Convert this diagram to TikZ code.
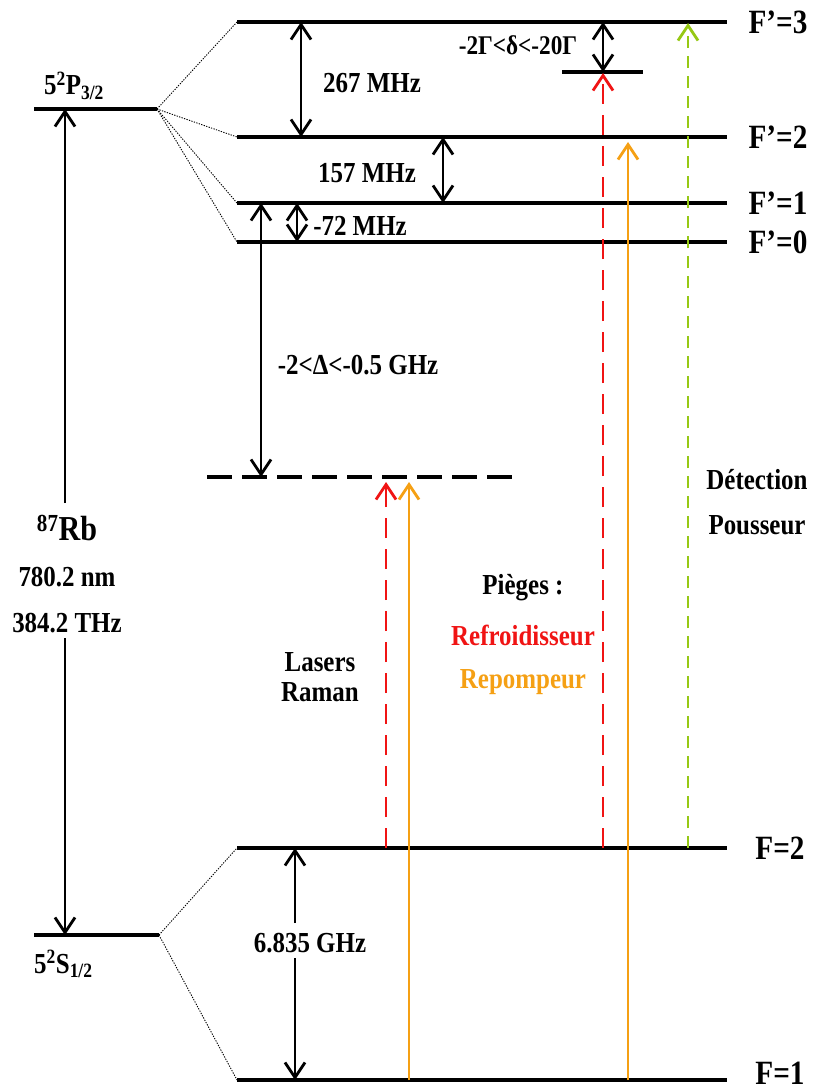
\documentclass[tikz,border=0pt]{standalone}
\usepackage{fontspec}
\setmainfont{Liberation Serif}[FakeStretch=0.86]
\usetikzlibrary{arrows.meta}
\definecolor{cred}{RGB}{240,20,20}
\definecolor{corange}{RGB}{245,160,20}
\definecolor{cgreen}{RGB}{150,200,20}
\begin{document}
\begin{tikzpicture}[x=1pt,y=-1pt,
  level/.style={line width=3.2pt},
  dotconn/.style={line width=0.9pt, dash pattern=on 1.3pt off 1.3pt},
  tipa/.tip={Straight Barb[length=15pt,width=20pt]},
  dbl/.style={line width=2.8pt, tipa-tipa},
  uparr/.style={line width=2.8pt, -tipa},
  reddash/.style={uparr, cred, dash pattern=on 20pt off 11pt},
  greendash/.style={uparr, cgreen, dash pattern=on 12pt off 8pt},
  orangearr/.style={uparr, corange},
  lbl/.style={inner sep=0pt, font=\fontsize{29}{34}\selectfont\bfseries},
  flbl/.style={inner sep=0pt, font=\fontsize{34}{38}\selectfont\bfseries}
]
\useasboundingbox (0,0) rectangle (813,1091);
% coordinates
\coordinate (F3l) at (237,22);  \coordinate (F3r) at (727,22);
\coordinate (F2pl) at (237,137); \coordinate (F2pr) at (727,137);
\coordinate (F1pl) at (237,203); \coordinate (F1pr) at (727,203);
\coordinate (F0pl) at (237,242); \coordinate (F0pr) at (727,242);
\coordinate (Pl) at (34,109); \coordinate (Pr) at (157,109);
\coordinate (Sl) at (34,935); \coordinate (Sr) at (159,935);
\coordinate (F2l) at (237,848); \coordinate (F2r) at (727,848);
\coordinate (F1l) at (237,1080); \coordinate (F1r) at (727,1080);
\coordinate (Vl) at (207,477); \coordinate (Vr) at (515,477);
\coordinate (dl) at (562,72); \coordinate (dr) at (643,72);
% levels
\draw[level] (F3l) -- (F3r);
\draw[level] (F2pl) -- (F2pr);
\draw[level] (F1pl) -- (F1pr);
\draw[level] (F0pl) -- (F0pr);
\draw[level] (Pl) -- (Pr);
\draw[level] (Sl) -- (Sr);
\draw[level] (F2l) -- (F2r);
\draw[level] (F1l) -- (F1r);
\draw[level] (dl) -- (dr);
\draw[line width=3.2pt, dash pattern=on 25pt off 10pt] (Vl) -- (Vr);
% dotted connectors
\draw[dotconn] (Pr) -- (F3l);
\draw[dotconn] (Pr) -- (F2pl);
\draw[dotconn] (Pr) -- (F1pl);
\draw[dotconn] (Pr) -- (F0pl);
\draw[dotconn] (Sr) -- (F2l);
\draw[dotconn] (Sr) -- (F1l);
% level labels
\node[flbl] (lF3) at (778,22) {F’=3};
\node[flbl] (lF2) at (778,137) {F’=2};
\node[flbl] (lF1) at (778,203) {F’=1};
\node[flbl] (lF0) at (778,242) {F’=0};
\node[flbl] (lFb2) at (780,848) {F=2};
\node[flbl] (lFb1) at (780,1073) {F=1};
\node[lbl, anchor=base west] (lP) at (44,95) {5\textsuperscript{2}P\textsubscript{3/2}};
\node[lbl, anchor=base west] (lS) at (34,973) {5\textsuperscript{2}S\textsubscript{1/2}};
% splitting arrows
\coordinate (a267t) at (301,22); \coordinate (a267b) at (301,137);
\draw[dbl] (a267t) -- (a267b);
\node[lbl] (t267) at (372,83) {267 MHz};
\coordinate (a157t) at (443,137); \coordinate (a157b) at (443,203);
\draw[dbl] (a157t) -- (a157b);
\node[lbl] (t157) at (367,173) {157 MHz};
\coordinate (a72t) at (297,203); \coordinate (a72b) at (297,242);
\draw[dbl] (a72t) -- (a72b);
\node[lbl] (t72) at (360,226) {-72 MHz};
\coordinate (adt) at (603,22); \coordinate (adb) at (603,72);
\draw[dbl] (adt) -- (adb);
\node[lbl, font=\fontsize{27}{30}\selectfont\bfseries] (td) at (518,45) {-2Γ<δ<-20Γ};
\coordinate (aDt) at (261,203); \coordinate (aDb) at (261,477);
\draw[dbl] (aDt) -- (aDb);
\node[lbl] (tD) at (358,365) {-2<Δ<-0.5 GHz};
% main transition
\coordinate (Pa) at (65,109); \coordinate (Sa) at (65,935);
\coordinate (Rb1) at (65,503); \coordinate (Rb2) at (65,638);
\draw[uparr] (Rb1) -- (Pa);
\draw[uparr] (Rb2) -- (Sa);
\node[lbl, font=\fontsize{35}{40}\selectfont\bfseries] (tRb) at (67,528) {\textsuperscript{87}Rb};
\node[lbl] (tnm) at (67,577) {780.2 nm};
\node[lbl] (tTHz) at (67,623) {384.2 THz};
% ground splitting
\coordinate (g1) at (295,923); \coordinate (g2) at (295,958);
\coordinate (gt) at (295,848); \coordinate (gb) at (295,1080);
\draw[uparr] (g1) -- (gt);
\draw[uparr] (g2) -- (gb);
\node[lbl] (tg) at (310,943) {6.835 GHz};
% lasers
\coordinate (r1s) at (386,848); \coordinate (r1e) at (386,482);
\coordinate (o1s) at (409,1080); \coordinate (o1e) at (409,482);
\coordinate (r2s) at (603,848); \coordinate (r2e) at (603,73);
\coordinate (o2s) at (628,1080); \coordinate (o2e) at (628,142);
\coordinate (gs) at (688,848); \coordinate (ge) at (688,23);
\draw[reddash] (r1s) -- (r1e);
\draw[orangearr] (o1s) -- (o1e);
\draw[reddash] (r2s) -- (r2e);
\draw[orangearr] (o2s) -- (o2e);
\draw[greendash] (gs) -- (ge);
% legend texts
\node[lbl] (tLas) at (320,662) {Lasers};
\node[lbl] (tRam) at (320,692) {Raman};
\node[lbl] (tPi) at (523,588) {Pièges :};
\node[lbl, text=cred] (tRef) at (523,635) {Refroidisseur};
\node[lbl, text=corange] (tRep) at (523,682) {Repompeur};
\node[lbl] (tDet) at (757,480) {Détection};
\node[lbl] (tPou) at (757,525) {Pousseur};
\end{tikzpicture}
\end{document}
